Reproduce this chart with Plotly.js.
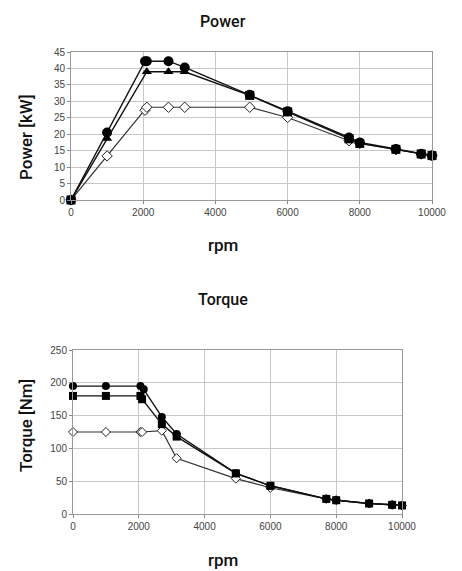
<!DOCTYPE html>
<html>
<head>
<meta charset="utf-8">
<script src="https://cdn.plot.ly/plotly-3.0.1.min.js"></script>
<style>html,body{margin:0;padding:0;background:#fff;}#chart{width:462px;height:571px;}</style>
</head>
<body>
<div id="chart"></div>
<script>
// Power chart data
const rpmPowerA = [0, 1000, 2050, 2100, 2700, 3150, 4950, 6000, 7700, 8000, 9000, 9700, 10000];
const powerCircle = [0, 20.5, 42.2, 42.2, 42.2, 40.3, 32.0, 27.0, 19.0, 17.5, 15.5, 14.0, 13.5];
const rpmPowerB = [0, 1000, 2100, 2700, 3150, 4950, 6000, 7700, 8000, 9000, 9700, 10000];
const powerTriangle = [0, 18.7, 39.0, 39.0, 39.0, 31.8, 26.8, 18.6, 17.2, 15.4, 14.0, 13.5];
const powerTriangleSymbols = ['square','triangle-up','triangle-up','triangle-up','triangle-up','square','square','square','square','square','square','square'];
const rpmPowerC = [0, 1000, 2050, 2100, 2700, 3150, 4950, 6000, 7700, 8000, 9000, 9700, 10000];
const powerDiamond = [0, 13.4, 27.3, 28.2, 28.2, 28.2, 28.2, 25.1, 18.0, 17.2, 15.3, 14.0, 13.5];

// Torque chart data
const rpmTorqueA = [0, 1000, 2050, 2150, 2700, 3150, 4950, 6000, 7700, 8000, 9000, 9700, 10000];
const torqueCircle = [195, 195, 195, 190, 148, 122, 62, 43, 23, 21, 16, 14, 13];
const rpmTorqueB = [0, 1000, 2050, 2100, 2700, 3150, 4950, 6000, 7700, 8000, 9000, 9700, 10000];
const torqueSquare = [180, 180, 180, 175, 137, 118, 62, 43, 23, 21, 16, 14, 13];
const rpmTorqueC = [0, 1000, 2050, 2100, 2700, 3150, 4950, 6000, 7700, 8000, 9000, 9700, 10000];
const torqueDiamond = [125, 125, 125, 125, 127, 85, 54, 40, 23, 21, 16, 14, 13];

const xTicks = [0, 2000, 4000, 6000, 8000, 10000];

const W = 462, H = 571;
const px = v => v / W;
const py = v => 1 - v / H;

const lineDark = {color: '#111', width: 1.4};
const lineGray = {color: '#333', width: 1.2};

const traces = [
  {x: rpmPowerC, y: powerDiamond, xaxis: 'x', yaxis: 'y', mode: 'lines+markers', line: lineGray, cliponaxis: false,
   marker: {symbol: 'diamond', size: 8, color: '#fff', line: {color: '#222', width: 1}}},
  {x: rpmPowerA, y: powerCircle, xaxis: 'x', yaxis: 'y', mode: 'lines+markers', line: lineDark, cliponaxis: false,
   marker: {symbol: 'circle', size: 10, color: '#000'}},
  {x: rpmPowerB, y: powerTriangle, xaxis: 'x', yaxis: 'y', mode: 'lines+markers', line: lineDark, cliponaxis: false,
   marker: {symbol: powerTriangleSymbols, size: 9, color: '#000'}},
  {x: rpmTorqueC, y: torqueDiamond, xaxis: 'x2', yaxis: 'y2', mode: 'lines+markers', line: lineGray, cliponaxis: false,
   marker: {symbol: 'diamond', size: 7, color: '#fff', line: {color: '#222', width: 1}}},
  {x: rpmTorqueA, y: torqueCircle, xaxis: 'x2', yaxis: 'y2', mode: 'lines+markers', line: lineDark, cliponaxis: false,
   marker: {symbol: 'circle', size: 8, color: '#000'}},
  {x: rpmTorqueB, y: torqueSquare, xaxis: 'x2', yaxis: 'y2', mode: 'lines+markers', line: lineDark, cliponaxis: false,
   marker: {symbol: 'square', size: 8, color: '#000'}}
];

const tickFont = {family: 'Liberation Sans, Arial, sans-serif', size: 10, color: '#444'};
const titleFont = {family: 'Roboto, sans-serif', size: 16, color: '#111', weight: 500};
const axisTitleFont = {family: 'Roboto, sans-serif', size: 17, color: '#111', weight: 500};

const axCommon = {
  showgrid: true, gridcolor: '#c8c8c8', gridwidth: 1,
  showline: true, linecolor: '#999', linewidth: 1, mirror: true,
  zeroline: false, tickfont: tickFont, fixedrange: true
};

const layout = {
  width: W, height: H,
  margin: {l: 0, r: 0, t: 0, b: 0},
  paper_bgcolor: '#fff', plot_bgcolor: '#fff',
  showlegend: false,
  xaxis: Object.assign({}, axCommon, {domain: [px(71), px(432)], anchor: 'y', range: [0, 10000],
    tickvals: xTicks, ticktext: xTicks.map(String), ticks: 'outside', ticklen: 3, tickcolor: '#888'}),
  yaxis: Object.assign({}, axCommon, {domain: [py(200), py(52)], anchor: 'x', range: [0, 45], dtick: 5,
    ticks: 'outside', ticklen: 3, tickcolor: '#888'}),
  xaxis2: Object.assign({}, axCommon, {domain: [px(73), px(402)], anchor: 'y2', range: [0, 10000],
    tickvals: xTicks, ticktext: xTicks.map(String), ticks: 'outside', ticklen: 3, tickcolor: '#888'}),
  yaxis2: Object.assign({}, axCommon, {domain: [py(514), py(350)], anchor: 'x2', range: [0, 250], dtick: 50,
    ticks: 'outside', ticklen: 3, tickcolor: '#888'}),
  annotations: [
    {text: 'Power', xref: 'paper', yref: 'paper', x: px(223), y: py(22), showarrow: false, font: titleFont, xanchor: 'center', yanchor: 'middle'},
    {text: 'rpm', xref: 'paper', yref: 'paper', x: px(223), y: py(245), showarrow: false, font: axisTitleFont, xanchor: 'center', yanchor: 'middle'},
    {text: 'Power [kW]', xref: 'paper', yref: 'paper', x: px(26), y: py(137), showarrow: false, font: axisTitleFont, textangle: -90, xanchor: 'center', yanchor: 'middle'},
    {text: 'Torque', xref: 'paper', yref: 'paper', x: px(223), y: py(299), showarrow: false, font: titleFont, xanchor: 'center', yanchor: 'middle'},
    {text: 'rpm', xref: 'paper', yref: 'paper', x: px(223), y: py(560), showarrow: false, font: axisTitleFont, xanchor: 'center', yanchor: 'middle'},
    {text: 'Torque [Nm]', xref: 'paper', yref: 'paper', x: px(26), y: py(426), showarrow: false, font: axisTitleFont, textangle: -90, xanchor: 'center', yanchor: 'middle'}
  ]
};

Plotly.newPlot('chart', traces, layout, {displayModeBar: false, staticPlot: true});
</script>
</body>
</html>
